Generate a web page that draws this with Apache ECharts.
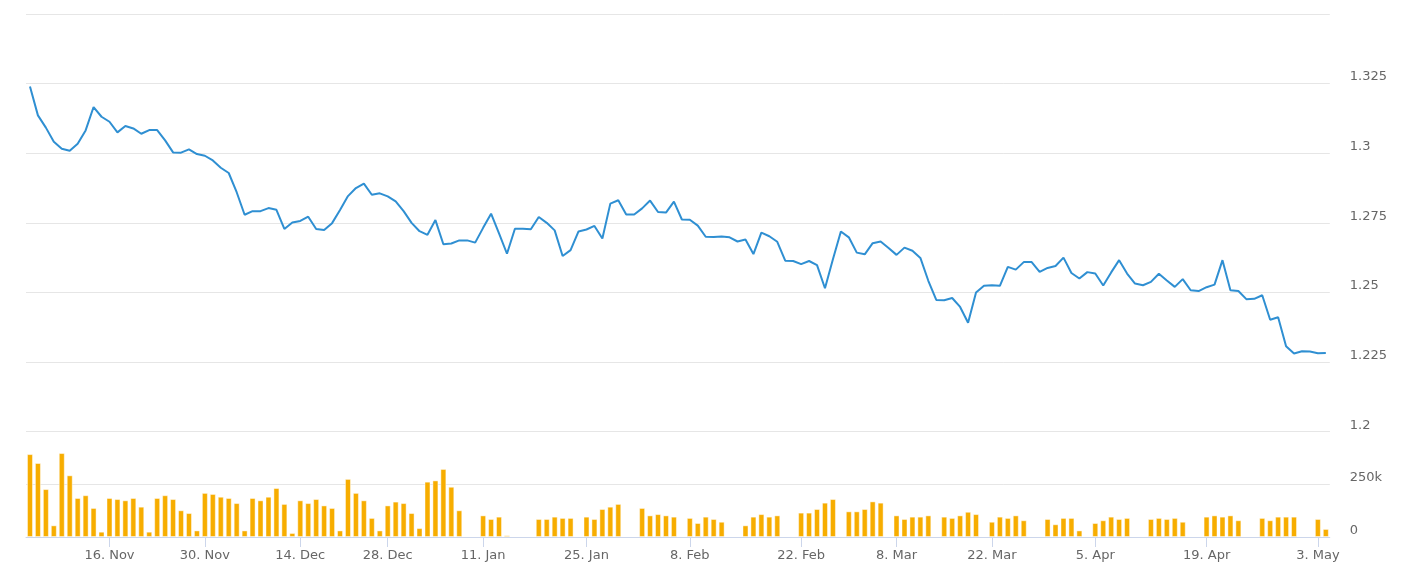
<!DOCTYPE html>
<html>
<head>
<meta charset="utf-8">
<script src="https://cdn.jsdelivr.net/npm/echarts@6/dist/echarts.min.js"></script>
<style>
html,body{margin:0;padding:0;background:#fff;}
#chart{width:1403px;height:573px;}
</style>
</head>
<body>
<div id="chart"></div>
<script>
const dates = [
'2020-11-04','2020-11-05','2020-11-06','2020-11-08','2020-11-09','2020-11-10','2020-11-11','2020-11-12','2020-11-13','2020-11-15',
'2020-11-16','2020-11-17','2020-11-18','2020-11-19','2020-11-20','2020-11-22','2020-11-23','2020-11-24','2020-11-25','2020-11-26','2020-11-27','2020-11-29',
'2020-11-30','2020-12-01','2020-12-02','2020-12-03','2020-12-04','2020-12-06','2020-12-07','2020-12-08','2020-12-09','2020-12-10','2020-12-11','2020-12-13',
'2020-12-14','2020-12-15','2020-12-16','2020-12-17','2020-12-18','2020-12-20','2020-12-21','2020-12-22','2020-12-23','2020-12-24','2020-12-27',
'2020-12-28','2020-12-29','2020-12-30','2020-12-31','2021-01-01','2021-01-03','2021-01-04','2021-01-05','2021-01-06','2021-01-07','2021-01-08','2021-01-10',
'2021-01-11','2021-01-12','2021-01-13','2021-01-14','2021-01-15','2021-01-17','2021-01-18','2021-01-19','2021-01-20','2021-01-21','2021-01-22','2021-01-23','2021-01-24',
'2021-01-25','2021-01-26','2021-01-27','2021-01-28','2021-01-29','2021-01-31','2021-02-01','2021-02-02','2021-02-03','2021-02-04','2021-02-05','2021-02-06','2021-02-07',
'2021-02-08','2021-02-09','2021-02-10','2021-02-11','2021-02-12','2021-02-13','2021-02-14','2021-02-15','2021-02-16','2021-02-17','2021-02-18','2021-02-19','2021-02-20','2021-02-21',
'2021-02-22','2021-02-23','2021-02-24','2021-02-25','2021-02-26','2021-02-28','2021-03-01','2021-03-02','2021-03-03','2021-03-04','2021-03-05','2021-03-07',
'2021-03-08','2021-03-09','2021-03-10','2021-03-11','2021-03-12','2021-03-14','2021-03-15','2021-03-16','2021-03-17','2021-03-18','2021-03-19','2021-03-21',
'2021-03-22','2021-03-23','2021-03-24','2021-03-25','2021-03-26','2021-03-28','2021-03-29','2021-03-30','2021-03-31','2021-04-01','2021-04-02','2021-04-03','2021-04-04',
'2021-04-05','2021-04-06','2021-04-07','2021-04-08','2021-04-09','2021-04-10','2021-04-11','2021-04-12','2021-04-13','2021-04-14','2021-04-15','2021-04-16','2021-04-17','2021-04-18',
'2021-04-19','2021-04-20','2021-04-21','2021-04-22','2021-04-23','2021-04-24','2021-04-25','2021-04-26','2021-04-27','2021-04-28','2021-04-29','2021-04-30','2021-05-01','2021-05-02',
'2021-05-03','2021-05-04'
];

const price = [
1.3240,1.3136,1.3092,1.3041,1.3016,1.3009,1.3034,1.3082,1.3166,1.3131,
1.3113,1.3075,1.3098,1.3089,1.3070,1.3083,1.3083,1.3046,1.3003,1.3002,
1.3014,1.2997,1.2991,1.2974,1.2948,1.2929,1.2860,1.2779,1.2792,1.2792,
1.2803,1.2797,1.2728,1.2751,1.2757,1.2772,1.2728,1.2724,1.2749,1.2796,
1.2846,1.2875,1.2891,1.2851,1.2856,1.2845,1.2827,1.2792,1.2750,1.2720,
1.2707,1.2760,1.2673,1.2676,1.2687,1.2687,1.2679,1.2732,1.2783,1.2712,
1.2639,1.2729,1.2729,1.2727,1.2771,1.2750,1.2723,1.2631,1.2652,1.2719,
1.2726,1.2739,1.2694,1.2819,1.2831,1.2780,1.2780,1.2802,1.2830,1.2789,
1.2787,1.2826,1.2762,1.2761,1.2740,1.2700,1.2699,1.2701,1.2698,1.2683,
1.2690,1.2638,1.2715,1.2702,1.2682,1.2614,1.2613,1.2602,1.2613,1.2598,
1.2515,1.2619,1.2719,1.2698,1.2643,1.2637,1.2677,1.2683,1.2660,1.2635,
1.2661,1.2650,1.2624,1.2542,1.2473,1.2472,1.2480,1.2448,1.2391,1.2500,
1.2524,1.2526,1.2524,1.2592,1.2582,1.2609,1.2609,1.2574,1.2588,1.2595,
1.2625,1.2570,1.2550,1.2573,1.2568,1.2525,1.2572,1.2616,1.2568,1.2532,
1.2526,1.2538,1.2567,1.2543,1.2520,1.2548,1.2508,1.2505,1.2519,1.2528,
1.2616,1.2508,1.2505,1.2476,1.2477,1.2490,1.2402,1.2411,1.2307,1.2281,
1.2289,1.2288,1.2282,1.2283
];

const volume = [
391000,349000,226000,55000,396000,291000,184000,197000,137000,25000,
184000,179000,173000,184000,143000,25000,184000,197000,179000,126000,
113000,31000,208000,203000,190000,184000,160000,31000,184000,173000,
190000,231000,156000,19000,173000,160000,179000,149000,137000,31000,
274000,208000,173000,90000,31000,149000,167000,160000,113000,42000,
261000,267000,321000,237000,126000,null,null,102000,85000,96000,
8000,null,null,null,85000,85000,96000,90000,90000,null,
96000,85000,132000,143000,156000,null,null,137000,102000,108000,
102000,96000,null,90000,66000,96000,85000,72000,null,null,
55000,96000,108000,96000,102000,null,null,115000,115000,132000,
162000,179000,null,121000,121000,132000,168000,162000,null,102000,
85000,96000,96000,102000,null,96000,90000,102000,119000,108000,
null,72000,96000,90000,102000,79000,null,null,85000,60000,
90000,90000,31000,null,66000,79000,96000,85000,90000,null,
null,85000,90000,85000,90000,72000,null,null,96000,102000,
96000,102000,79000,null,null,90000,79000,96000,96000,96000,
null,null,85000,38000
];

const tickDates = ['2020-11-16','2020-11-30','2020-12-14','2020-12-28','2021-01-11','2021-01-25','2021-02-08','2021-02-22','2021-03-08','2021-03-22','2021-04-05','2021-04-19','2021-05-03'];
const tickLabels = ['16. Nov','30. Nov','14. Dec','28. Dec','11. Jan','25. Jan','8. Feb','22. Feb','8. Mar','22. Mar','5. Apr','19. Apr','3. May'];

const FONT = 'DejaVu Sans';
const LABEL_COLOR = '#666666';
const GRID_COLOR = '#e6e6e6';

const isTick = (idx, val) => tickDates.indexOf(val) >= 0;

const chart = echarts.init(document.getElementById('chart'), null, {renderer: 'canvas'});
chart.setOption({
  animation: false,
  backgroundColor: '#ffffff',
  textStyle: {fontFamily: FONT},
  grid: [
    {left: 26, width: 1303.8, top: 14, height: 417.7},
    {left: 26, width: 1303.8, top: 431, height: 106}
  ],
  xAxis: [
    {
      type: 'category', gridIndex: 0, data: dates, boundaryGap: true,
      axisLine: {show: false}, axisTick: {show: false}, axisLabel: {show: false}, splitLine: {show: false}
    },
    {
      type: 'category', gridIndex: 1, data: dates, boundaryGap: true,
      axisLine: {show: true, lineStyle: {color: '#ccd6eb', width: 1}},
      axisTick: {show: true, alignWithLabel: true, interval: isTick, length: 10, lineStyle: {color: '#ccd6eb', width: 1}},
      axisLabel: {
        show: true, interval: isTick, margin: 12,
        color: LABEL_COLOR, fontSize: 13, fontFamily: FONT,
        formatter: v => { const k = tickDates.indexOf(v); return k >= 0 ? tickLabels[k] : ''; }
      },
      splitLine: {show: false}
    }
  ],
  yAxis: [
    {
      type: 'value', gridIndex: 0, position: 'right', min: 1.2, max: 1.35, interval: 0.025,
      axisLine: {show: false}, axisTick: {show: false},
      splitLine: {show: true, lineStyle: {color: GRID_COLOR, width: 1}},
      axisLabel: {
        show: true, showMaxLabel: false, margin: 20, align: 'left', verticalAlign: 'bottom',
        color: LABEL_COLOR, fontSize: 13, fontFamily: FONT,
        formatter: v => (Math.round(v * 1000) / 1000).toString()
      }
    },
    {
      type: 'value', gridIndex: 1, position: 'right', min: 0, max: 500000, interval: 250000,
      axisLine: {show: false}, axisTick: {show: false},
      splitLine: {show: true, lineStyle: {color: GRID_COLOR, width: 1}},
      axisLabel: {
        show: true, showMaxLabel: false, margin: 20, align: 'left', verticalAlign: 'bottom',
        color: LABEL_COLOR, fontSize: 13, fontFamily: FONT,
        formatter: v => v === 0 ? '0' : (v >= 500000 ? '' : (v / 1000) + 'k')
      }
    }
  ],
  series: [
    {
      type: 'line', xAxisIndex: 0, yAxisIndex: 0, data: price,
      symbol: 'none', lineStyle: {color: '#2f8fd2', width: 2}, itemStyle: {color: '#2f8fd2'}
    },
    {
      type: 'bar', xAxisIndex: 1, yAxisIndex: 1, data: volume, barWidth: 6,
      itemStyle: {color: '#f7ad00', borderColor: 'rgba(255,255,255,0.45)', borderWidth: 1}
    }
  ]
});
</script>
</body>
</html>
